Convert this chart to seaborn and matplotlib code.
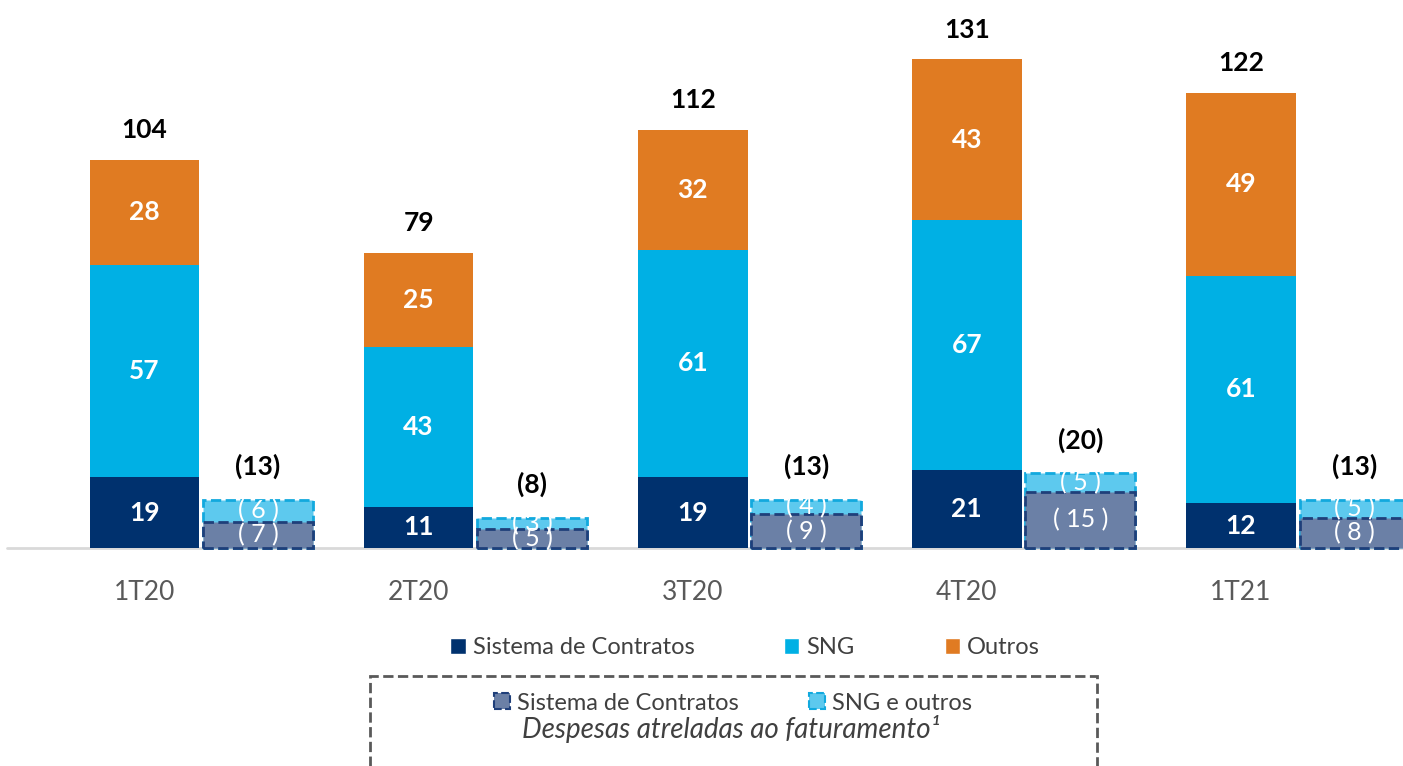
import matplotlib
matplotlib.use('Agg')
import matplotlib.pyplot as plt
import numpy as np
import seaborn as sns
from matplotlib.patches import Patch, Rectangle

# dados (R$ milhões)
trimestres = ['1T20', '2T20', '3T20', '4T20', '1T21']
sistema = [19, 11, 19, 21, 12]
sng = [57, 43, 61, 67, 61]
outros = [28, 25, 32, 43, 49]
totais = [104, 79, 112, 131, 122]
ded_sistema = [7, 5, 9, 15, 8]
ded_sng_outros = [6, 3, 4, 5, 5]
ded_totais = [13, 8, 13, 20, 13]

# cores
c_sistema = '#00316E'
c_sng = '#00B0E4'
c_outros = '#E07B22'
c_ded_sis = '#6B80A6'
c_ded_sis_edge = '#1F3F7A'
c_ded_sng = '#5DC9EE'
c_ded_sng_edge = '#12A9DE'

sns.set_theme(style='white')
plt.rcParams['font.family'] = ['Lato', 'DejaVu Sans']

fig = plt.figure(figsize=(14.03, 7.66), dpi=100)
ax = fig.add_axes([0, 0, 1, 1])

pos = np.arange(len(trimestres))
pos_ded = pos + 0.414

base1 = np.array(sistema) + np.array(sng)

# barras empilhadas (desenhadas do total para a base)
sns.barplot(x=pos, y=totais, native_scale=True, color=c_outros, width=0.4,
            saturation=1, linewidth=0, errorbar=None, ax=ax, zorder=2)
sns.barplot(x=pos, y=base1, native_scale=True, color=c_sng, width=0.4,
            saturation=1, linewidth=0, errorbar=None, ax=ax, zorder=2)
sns.barplot(x=pos, y=sistema, native_scale=True, color=c_sistema, width=0.4,
            saturation=1, linewidth=0, errorbar=None, ax=ax, zorder=2)

# despesas atreladas ao faturamento
sns.barplot(x=pos_ded, y=ded_totais, native_scale=True, color=c_ded_sng, width=0.4,
            saturation=1, linewidth=2, edgecolor=c_ded_sng_edge, linestyle='--',
            errorbar=None, ax=ax, zorder=2)
sns.barplot(x=pos_ded, y=ded_sistema, native_scale=True, color=c_ded_sis, width=0.4,
            saturation=1, linewidth=2, edgecolor=c_ded_sis_edge, linestyle='--',
            errorbar=None, ax=ax, zorder=3)

ax.axhline(0, xmin=0.005, color='#D9D9D9', lw=2, zorder=1)

for i in range(len(trimestres)):
    ax.text(pos[i], sistema[i] / 2, str(sistema[i]), ha='center', va='center',
            color='white', fontsize=19, fontweight='bold', zorder=5)
    ax.text(pos[i], sistema[i] + sng[i] / 2, str(sng[i]), ha='center', va='center',
            color='white', fontsize=19, fontweight='bold', zorder=5)
    ax.text(pos[i], base1[i] + outros[i] / 2, str(outros[i]), ha='center', va='center',
            color='white', fontsize=19, fontweight='bold', zorder=5)
    ax.text(pos[i], totais[i] + 8, str(totais[i]), ha='center', va='center',
            color='black', fontsize=19, fontweight='bold', zorder=5)
    ax.text(pos_ded[i], ded_sistema[i] / 2, f'( {ded_sistema[i]} )', ha='center',
            va='center', color='white', fontsize=18, zorder=5)
    ax.text(pos_ded[i], ded_sistema[i] + ded_sng_outros[i] / 2,
            f'( {ded_sng_outros[i]} )', ha='center', va='center', color='white',
            fontsize=18, zorder=5)
    ax.text(pos_ded[i], ded_totais[i] + 9, f'({ded_totais[i]})', ha='center',
            va='center', color='black', fontsize=19, fontweight='bold', zorder=5)
    ax.text(pos[i], -12, trimestres[i], ha='center', va='center',
            color='#595959', fontsize=19)

ax.set_xlim((0 - 144.5) / 274.1, (1403 - 144.5) / 274.1)
ax.set_ylim(-(766 - 548) / 3.73, 548 / 3.73)
ax.set_axis_off()

# legendas
h1 = [Patch(facecolor=c_sistema), Patch(facecolor=c_sng), Patch(facecolor=c_outros)]
leg1 = fig.legend(h1, ['Sistema de Contratos', 'SNG', 'Outros'], loc='center',
                  bbox_to_anchor=(745 / 1403, 1 - 648 / 766), ncol=3, frameon=False,
                  fontsize=17, handlelength=0.65, handleheight=0.65,
                  handletextpad=0.3, columnspacing=3.8, labelcolor='#404040')

h2 = [Patch(facecolor=c_ded_sis, edgecolor=c_ded_sis_edge, linestyle='--', linewidth=1.5),
      Patch(facecolor=c_ded_sng, edgecolor=c_ded_sng_edge, linestyle='--', linewidth=1.5)]
leg2 = fig.legend(h2, ['Sistema de Contratos', 'SNG e outros'], loc='center',
                  bbox_to_anchor=(733 / 1403, 1 - 703 / 766), ncol=2, frameon=False,
                  fontsize=17, handlelength=0.65, handleheight=0.65,
                  handletextpad=0.3, columnspacing=3.0, labelcolor='#404040')

fig.text(731 / 1403, 1 - 729 / 766, 'Despesas atreladas ao faturamento¹', ha='center',
         va='center', fontsize=20, style='italic', color='#404040')

fig.patches.append(Rectangle((370 / 1403, -0.05), (1097 - 370) / 1403, 0.05 + 90 / 766,
                             transform=fig.transFigure, fill=False, edgecolor='#595959',
                             linestyle='--', linewidth=2))

fig.savefig('out.png', dpi=100)
